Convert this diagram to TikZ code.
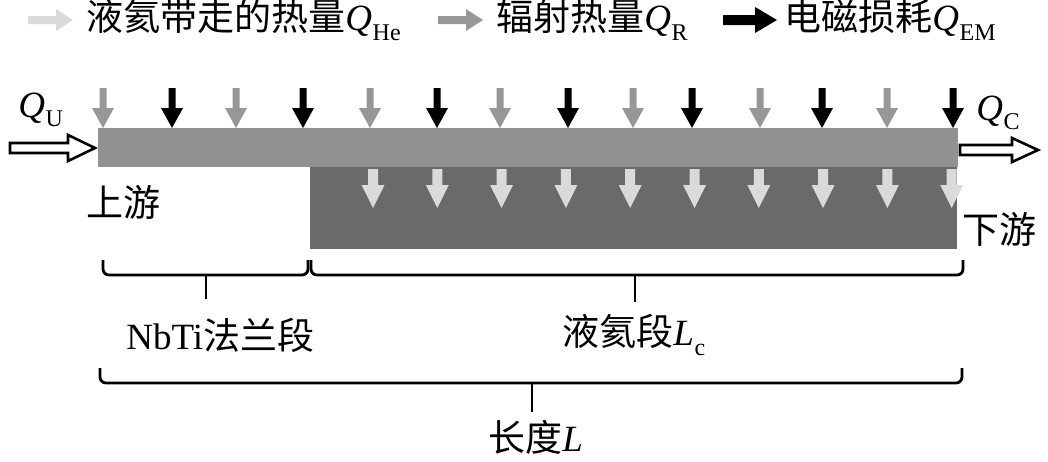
\documentclass[tikz,border=0pt]{standalone}
\usepackage{fontspec}
\setmainfont{Liberation Serif}
\newfontfamily\cjk{Noto Sans CJK SC}
\newcommand\zh[1]{{\cjk #1}}
\newcommand\Qs[2]{\textit{#1}\kern0.3pt\raisebox{-0.55ex}{\fontsize{12}{12}\selectfont #2}}
\definecolor{lightarr}{HTML}{DADADA}
\definecolor{midarr}{HTML}{979797}
\definecolor{barcol}{HTML}{919191}
\definecolor{blockcol}{HTML}{6A6A6A}
\tikzset{
  lbl/.style={inner sep=0pt, anchor=west, font=\fontsize{18.5}{22}\selectfont},
  topar/.pic={\fill (-3.5,-40) -- (-3.5,-20) -- (-11,-20) -- (0,0) -- (11,-20) -- (3.5,-20) -- (3.5,-40) -- cycle;},
  blkar/.pic={\fill (-5,-39) -- (-5,-23) -- (-11.5,-23) -- (0,0) -- (11.5,-23) -- (5,-23) -- (5,-39) -- cycle;},
  legar/.pic={\fill (-45,-4) -- (-17,-4) -- (-17,-11) -- (0,0) -- (-17,11) -- (-17,4) -- (-45,4) -- cycle;},
  legarbig/.pic={\fill (-54,-5) -- (-22,-5) -- (-22,-13) -- (0,0) -- (-22,13) -- (-22,5) -- (-54,5) -- cycle;},
  hollow/.style={draw=black, fill=white, line width=1.3pt, line join=miter},
  brace/.style={draw=black, line width=1.4pt, rounded corners=3pt}
}
\begin{document}
\begin{tikzpicture}[x=0.5pt,y=-0.5pt]
\useasboundingbox (0,0) rectangle (1048,461);
% legend
\pic[lightarr] at (73,20) {legar};
\node[lbl] (leg1) at (86,20) {\zh{液氦带走的热量}\Qs{Q}{He}};
\pic[midarr] at (483,20) {legar};
\node[lbl] (leg2) at (496,20) {\zh{辐射热量}\Qs{Q}{R}};
\pic[black] at (777,20) {legarbig};
\node[lbl] (leg3) at (784,20) {\zh{电磁损耗}\Qs{Q}{EM}};
% bars
\fill[blockcol] (310,167) rectangle (957,249);
\fill[barcol] (98,128) rectangle (958,167);
% top arrows
\foreach \x in {103,236,370,500,633,760,887} \pic[midarr] at (\x,128) {topar};
\foreach \x in {172,303,437,568,692,822,953} \pic[black] at (\x,128) {topar};
% block arrows
\foreach \i in {0,...,9} \pic[lightarr] at ({373+64.3*\i},208) {blkar};
% hollow arrows
\draw[hollow] (10,143) -- (68,143) -- (68,135) -- (95,148) -- (68,161) -- (68,153) -- (10,153) -- cycle;
\draw[hollow] (960,145) -- (1012,145) -- (1012,138) -- (1038,150) -- (1012,162) -- (1012,155) -- (960,155) -- cycle;
\node[lbl] (qu) at (18,110) {\Qs{Q}{U}};
\node[lbl] (qc) at (976,113) {\Qs{Q}{C}};
\node[lbl] (up) at (86,202) {\zh{上游}};
\node[lbl] (down) at (962,229) {\zh{下游}};
% braces
\draw[brace] (103,260) -- (103,275) -- (308,275) -- (308,260);
\draw[line width=1.4pt] (206,275) -- (206,299);
\draw[brace] (311,260) -- (311,275) -- (963,275) -- (963,260);
\draw[line width=1.4pt] (635,275) -- (635,302);
\draw[brace] (100,368) -- (100,383) -- (962,383) -- (962,368);
\draw[line width=1.4pt] (532,383) -- (532,412);
\node[lbl] (nbti) at (126,335) {NbTi\zh{法兰段}};
\node[lbl] (lc) at (562,335) {\zh{液氦段}\Qs{L}{c}};
\node[lbl] (ltot) at (488,437) {\zh{长度}\textit{L}};
\end{tikzpicture}
\end{document}
